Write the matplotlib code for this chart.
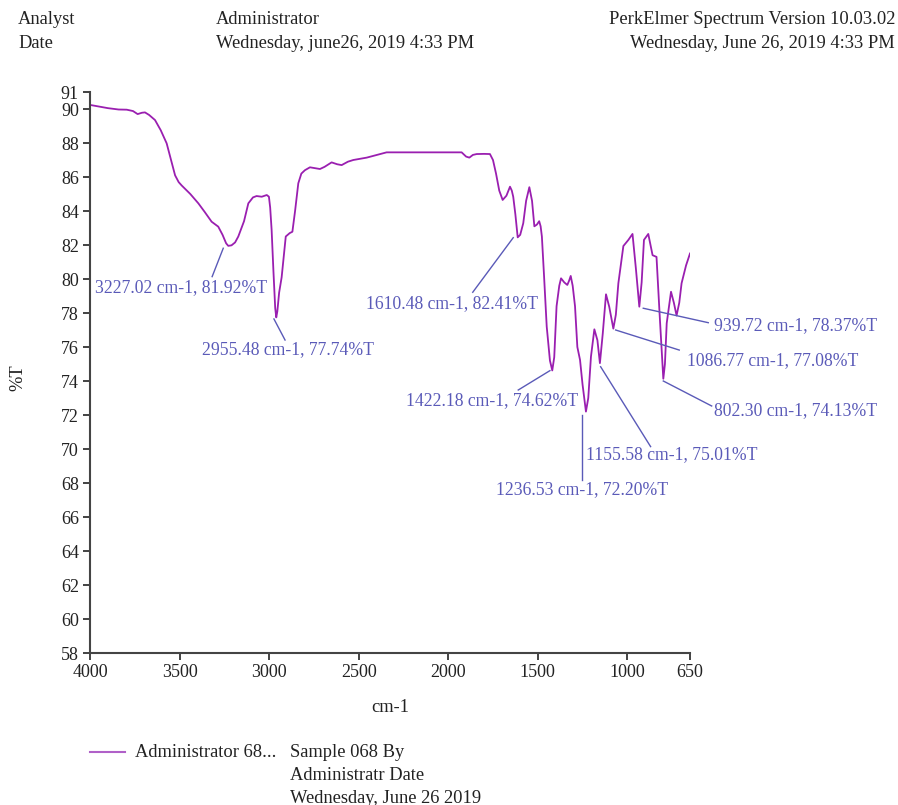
import matplotlib.pyplot as plt

plt.switch_backend('Agg')
plt.rcParams['font.family'] = ['Liberation Serif', 'DejaVu Serif']

# Spectrum (wavenumber in cm-1, transmittance in %T)
wavenumber = [4000, 3900, 3840, 3795, 3760, 3734, 3710, 3693, 3670, 3637, 3605, 3572, 3550, 3525,
              3505, 3488, 3440, 3395, 3360, 3321, 3284, 3260, 3240, 3228, 3210, 3190, 3172,
              3140, 3116, 3090, 3070, 3041, 3013, 3001, 2994, 2986, 2976, 2966, 2960, 2954,
              2944, 2930, 2915, 2907, 2885, 2870, 2855, 2837, 2820, 2800, 2772, 2745, 2716,
              2690, 2651, 2620, 2595, 2560, 2530, 2455, 2344, 2100, 1925, 1900, 1882, 1862,
              1841, 1800, 1767, 1750, 1733, 1715, 1696, 1675, 1655, 1645, 1637, 1625, 1612,
              1598, 1581, 1565, 1547, 1532, 1519, 1505, 1492, 1484, 1477, 1465, 1450, 1432,
              1419, 1408, 1395, 1380, 1370, 1352, 1335, 1325, 1316, 1305, 1292, 1279, 1264,
              1250, 1231, 1218, 1203, 1184, 1167, 1153, 1137, 1119, 1101, 1078, 1064, 1050,
              1022, 994, 971, 952, 933, 920, 907, 883, 859, 837, 820, 799, 790, 780, 756, 740,
              725, 710, 697, 672, 650]
transmittance = [90.24, 90.05, 89.97, 89.96, 89.88, 89.7, 89.78, 89.8, 89.65, 89.35, 88.75, 87.98, 87.1, 86.1,
                 85.7, 85.5, 85.0, 84.45, 83.95, 83.37, 83.08, 82.6, 82.1, 81.95, 81.98, 82.15, 82.5,
                 83.4, 84.45, 84.8, 84.88, 84.84, 84.94, 84.84, 84.2, 82.9, 80.5, 78.3, 77.74, 78.1,
                 79.2, 80.1, 81.7, 82.5, 82.7, 82.78, 84.0, 85.63, 86.2, 86.4, 86.57, 86.52, 86.47,
                 86.6, 86.86, 86.75, 86.7, 86.9, 87.0, 87.14, 87.45, 87.45, 87.45, 87.2, 87.14, 87.3,
                 87.35, 87.36, 87.35, 87.0, 86.2, 85.2, 84.65, 84.9, 85.43, 85.2, 84.84, 83.8, 82.45,
                 82.6, 83.28, 84.6, 85.4, 84.6, 83.1, 83.2, 83.4, 83.1, 82.5, 80.2, 77.2, 75.2,
                 74.62, 75.4, 78.4, 79.6, 80.04, 79.8, 79.65, 79.9, 80.18, 79.6, 78.4, 76.0, 75.24,
                 73.8, 72.2, 73.0, 75.43, 77.04, 76.4, 75.05, 76.8, 79.1, 78.37, 77.08, 77.9, 79.75,
                 81.94, 82.3, 82.65, 80.6, 78.37, 79.8, 82.3, 82.65, 81.4, 81.3, 78.0, 74.13, 75.0, 77.4,
                 79.25, 78.6, 77.85, 78.6, 79.75, 80.8, 81.5]

# Labelled peaks
peak_wn = [3227.02, 2955.48, 1610.48, 939.72, 1086.77, 1422.18, 802.30, 1155.58, 1236.53]
peak_t = [81.92, 77.74, 82.41, 78.37, 77.08, 74.62, 74.13, 75.01, 72.20]

# where each label sits: line start, line end, text anchor, alignment
label_layout = [
    ((3256, 81.81), (3318, 80.14), (3972, 79.49), 'left'),
    ((2973, 77.65), (2911, 76.41), (3376, 75.86), 'left'),
    ((1637, 82.43), (1863, 79.22), (2459, 78.57), 'left'),
    ((911, 78.28), (548, 77.43), (514, 77.24), 'left'),
    ((1065, 77.0), (710, 75.82), (669, 75.19), 'left'),
    ((1432, 74.61), (1609, 73.47), (1274, 72.84), 'right'),
    ((799, 74.0), (529, 72.53), (514, 72.24), 'left'),
    ((1149, 74.84), (870, 70.14), (1231, 69.65), 'left'),
    ((1255, 72.0), (1255, 68.18), (1733, 67.63), 'left'),
]

y_ticks = [58, 60, 62, 64, 66, 68, 70, 72, 74, 76, 78, 80, 82, 84, 86, 88, 90, 91]
x_ticks = [4000, 3500, 3000, 2500, 2000, 1500, 1000, 650]

curve_color = '#9a1fb0'
label_color = '#5a5ab8'
text_color = '#222222'
fs = 13.3

fig = plt.figure(figsize=(8.98, 8.05), dpi=100)
ax = fig.add_axes([90 / 898, 1 - 653 / 805, 600 / 898, 561 / 805])

ax.plot(wavenumber, transmittance, color=curve_color, linewidth=1.3)

for (wn, t), (start, end, txt_pos, ha) in zip(zip(peak_wn, peak_t), label_layout):
    ax.plot([start[0], end[0]], [start[1], end[1]], color=label_color, linewidth=1.0, clip_on=False)
    ax.text(txt_pos[0], txt_pos[1], f"{wn:.2f} cm-1, {t:.2f}%T", color=label_color,
            fontsize=12.7, ha=ha, va='center', clip_on=False)

ax.set_xlim(4000, 650)
ax.set_ylim(58, 91)
ax.set_xticks(x_ticks)
ax.set_xticklabels([str(v) for v in x_ticks])
ax.set_yticks(y_ticks)
ax.tick_params(axis='both', labelsize=13, colors=text_color, length=5, width=1.2, pad=3)
for side in ['top', 'right']:
    ax.spines[side].set_visible(False)
for side in ['left', 'bottom']:
    ax.spines[side].set_color('#444444')
    ax.spines[side].set_linewidth(1.5)

fig.text(390 / 898, 1 - 708 / 805, 'cm-1', fontsize=fs, ha='center', va='center', color=text_color)
fig.text(18 / 898, 1 - 378 / 805, '%T', fontsize=fs, ha='center', va='center',
         rotation=90, color=text_color)

# header
fig.text(18 / 898, 1 - 20 / 805, 'Analyst', fontsize=fs, va='center', color=text_color)
fig.text(18 / 898, 1 - 43 / 805, 'Date', fontsize=fs, va='center', color=text_color)
fig.text(216 / 898, 1 - 20 / 805, 'Administrator', fontsize=fs, va='center', color=text_color)
fig.text(216 / 898, 1 - 43 / 805, 'Wednesday, june26, 2019 4:33 PM', fontsize=fs, va='center',
         color=text_color)
fig.text(895 / 898, 1 - 20 / 805, 'PerkElmer Spectrum Version 10.03.02', fontsize=fs, va='center',
         ha='right', color=text_color)
fig.text(895 / 898, 1 - 43 / 805, 'Wednesday, June 26, 2019 4:33 PM', fontsize=fs, va='center',
         ha='right', color=text_color)

# legend block
fig.add_artist(plt.Line2D([90 / 898, 125 / 898], [1 - 752 / 805, 1 - 752 / 805],
                          color='#b060c8', linewidth=1.5))
fig.text(135 / 898, 1 - 752 / 805, 'Administrator 68...', fontsize=fs, va='center', color=text_color)
fig.text(290 / 898, 1 - 752 / 805, 'Sample 068 By', fontsize=fs, va='center', color=text_color)
fig.text(290 / 898, 1 - 775 / 805, 'Administratr Date', fontsize=fs, va='center', color=text_color)
fig.text(290 / 898, 1 - 798 / 805, 'Wednesday, June 26 2019', fontsize=fs, va='center',
         color=text_color)

fig.savefig('out.png', dpi=100, facecolor='white')
